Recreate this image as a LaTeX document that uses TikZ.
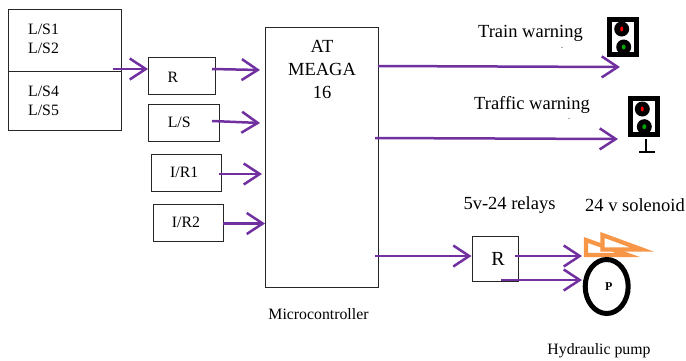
\documentclass[tikz,border=0pt]{standalone}
\usepackage{fontspec}
\setmainfont{Liberation Serif}
\usetikzlibrary{arrows.meta,shapes.geometric}
\definecolor{arrowpurple}{HTML}{7030A0}
\definecolor{solorange}{HTML}{F79646}
\tikzset{
  box/.style={draw=black!85,line width=0.95pt,fill=white,inner sep=0pt},
  sig/.style={draw=arrowpurple,line width=2.5pt,-{Straight Barb[length=16pt,width=21pt,line width=2.5pt]}},
  lab/.style={font=\fontsize{15.8}{19}\selectfont,inner sep=0pt,align=center},
  big/.style={font=\fontsize{18.5}{23}\selectfont,inner sep=0pt,align=center},
  tiny dot/.style={font=\fontsize{6}{6}\selectfont\bfseries,inner sep=0pt,anchor=base},
  signalframe/.style={draw=black,line width=5pt,fill=white,minimum width=27pt,minimum height=35.5pt,inner sep=0pt},
  lamp/.style={circle,fill=black,minimum size=15pt,inner sep=0pt},
  dotred/.style={ellipse,fill=red,minimum width=3pt,minimum height=5pt,inner sep=0pt},
  dotgreen/.style={ellipse,fill=green!65!black,minimum width=4pt,minimum height=5pt,inner sep=0pt},
  sol/.style={draw=solorange,line width=4.2pt,fill=white,miter limit=10},
}
\begin{document}
\begin{tikzpicture}[x=1pt,y=-1pt]
\useasboundingbox (0,0) rectangle (686,360);
% input boxes
\node[box,minimum width=113pt,minimum height=62pt] (upper) at (64.5,40) {};
\node[box,minimum width=113pt,minimum height=59pt] (lower) at (64.5,100.5) {};
\node[lab,anchor=west] (ls1) at (28,29) {L/S1};
\node[lab,anchor=west] (ls2) at (28,48) {L/S2};
\node[lab,anchor=west] (ls4) at (28,91) {L/S4};
\node[lab,anchor=west] (ls5) at (28,110) {L/S5};
\node[box,minimum width=67pt,minimum height=37pt] (r) at (182,75.5) {};
\node[lab] (rt) at (173,77) {R};
\node[box,minimum width=70.5pt,minimum height=37pt] (ls) at (183.75,122.5) {\fontsize{15.8}{19}\selectfont\hspace*{-9pt}L/S};
\node[box,minimum width=70pt,minimum height=37pt] (ir1) at (186,172.5) {\fontsize{15.8}{19}\selectfont\hspace*{-3.5pt}I/R1};
\node[box,minimum width=70pt,minimum height=37pt] (ir2) at (188,222.5) {\fontsize{15.8}{19}\selectfont\hspace*{-4pt}I/R2};
% microcontroller
\node[box,minimum width=113pt,minimum height=260pt] (mcu) at (322,157) {};
\node[big] (at) at (322,46) {AT};
\node[big] (meaga) at (322,69) {MEAGA};
\node[big] (sixteen) at (322,92) {16};
\node[lab] (mc) at (318.5,314) {Microcontroller};
% relay
\node[box,minimum width=46pt,minimum height=45pt,font=\fontsize{20}{23}\selectfont] (relay) at (495,258.5) {\hspace*{6pt}R};
% labels
\node[big] (tw) at (530.5,33) {Train warning};
\node[big] (trw) at (532,105) {Traffic warning};
\node[tiny dot] (d1) at (562,48) {.};
\node[tiny dot] (d2) at (569,119) {.};
\node[big] (rel) at (509.5,205) {5v-24 relays};
\node[big] (solt) at (635,205) {24 v solenoid};
\node[lab] (hp) at (599,351) {Hydraulic pump};
% train signal
\node[signalframe] (sig1) at (623.3,37) {};
\node[lamp] (l1a) at (621.7,29) {};
\node[lamp] (l1b) at (623.7,47) {};
\node[dotred] at (l1a) {};
\node[dotgreen] at (l1b) {};
% traffic signal
\node[signalframe] (sig2) at (644,116.7) {};
\node[lamp] (l2a) at (642.3,109) {};
\node[lamp] (l2b) at (644.3,126.7) {};
\node[dotred] at (l2a) {};
\node[dotgreen] at (l2b) {};
\coordinate (polebase) at (646,151.5);
\draw[line width=2pt] (646,139) -- (polebase);
\draw[line width=2pt] (639,151.5) -- (654.5,151.5);
% solenoid
\draw[sol] (586,240) -- (586,255) -- (628,255) -- cycle;
\draw[sol] (602.5,235) -- (602.5,249.5) -- (642,249.5) -- cycle;
% pump
\node[ellipse,draw=black,line width=5pt,fill=white,minimum width=43pt,minimum height=54pt,inner sep=0pt,font=\fontsize{12}{13}\selectfont\bfseries] (pump) at (606.7,286.5) {\hspace*{4pt}P};
% connectors
\coordinate (a1s) at (113,69);
\coordinate (a2s) at (212,69);
\coordinate (a3s) at (212,121);
\coordinate (a4s) at (219,174);
\coordinate (a5s) at (223,223.5);
\coordinate (o1s) at (378,66);
\coordinate (o2s) at (375,138);
\coordinate (o3s) at (375,256);
\coordinate (r1s) at (515,256);
\coordinate (r2s) at (501,280);
\coordinate (r1e) at (582,256);
\coordinate (r2e) at (582,280);
\coordinate (o1e) at (620,67);
\coordinate (o2e) at (618,139);
\draw[sig] (a1s) -- (r.west |- a1s);
\draw[sig] (a2s) -- (260,70);
\draw[sig] (a3s) -- (260,123);
\draw[sig] (a4s) -- (262,174);
\draw[sig] (a5s) -- (mcu.west |- a5s);
\draw[sig] (o1s) -- (o1e);
\draw[sig] (o2s) -- (o2e);
\draw[sig] (o3s) -- (relay.west |- o3s);
\draw[sig] (r1s) -- (r1e);
\draw[sig] (r2s) -- (r2e);
\end{tikzpicture}
\end{document}
